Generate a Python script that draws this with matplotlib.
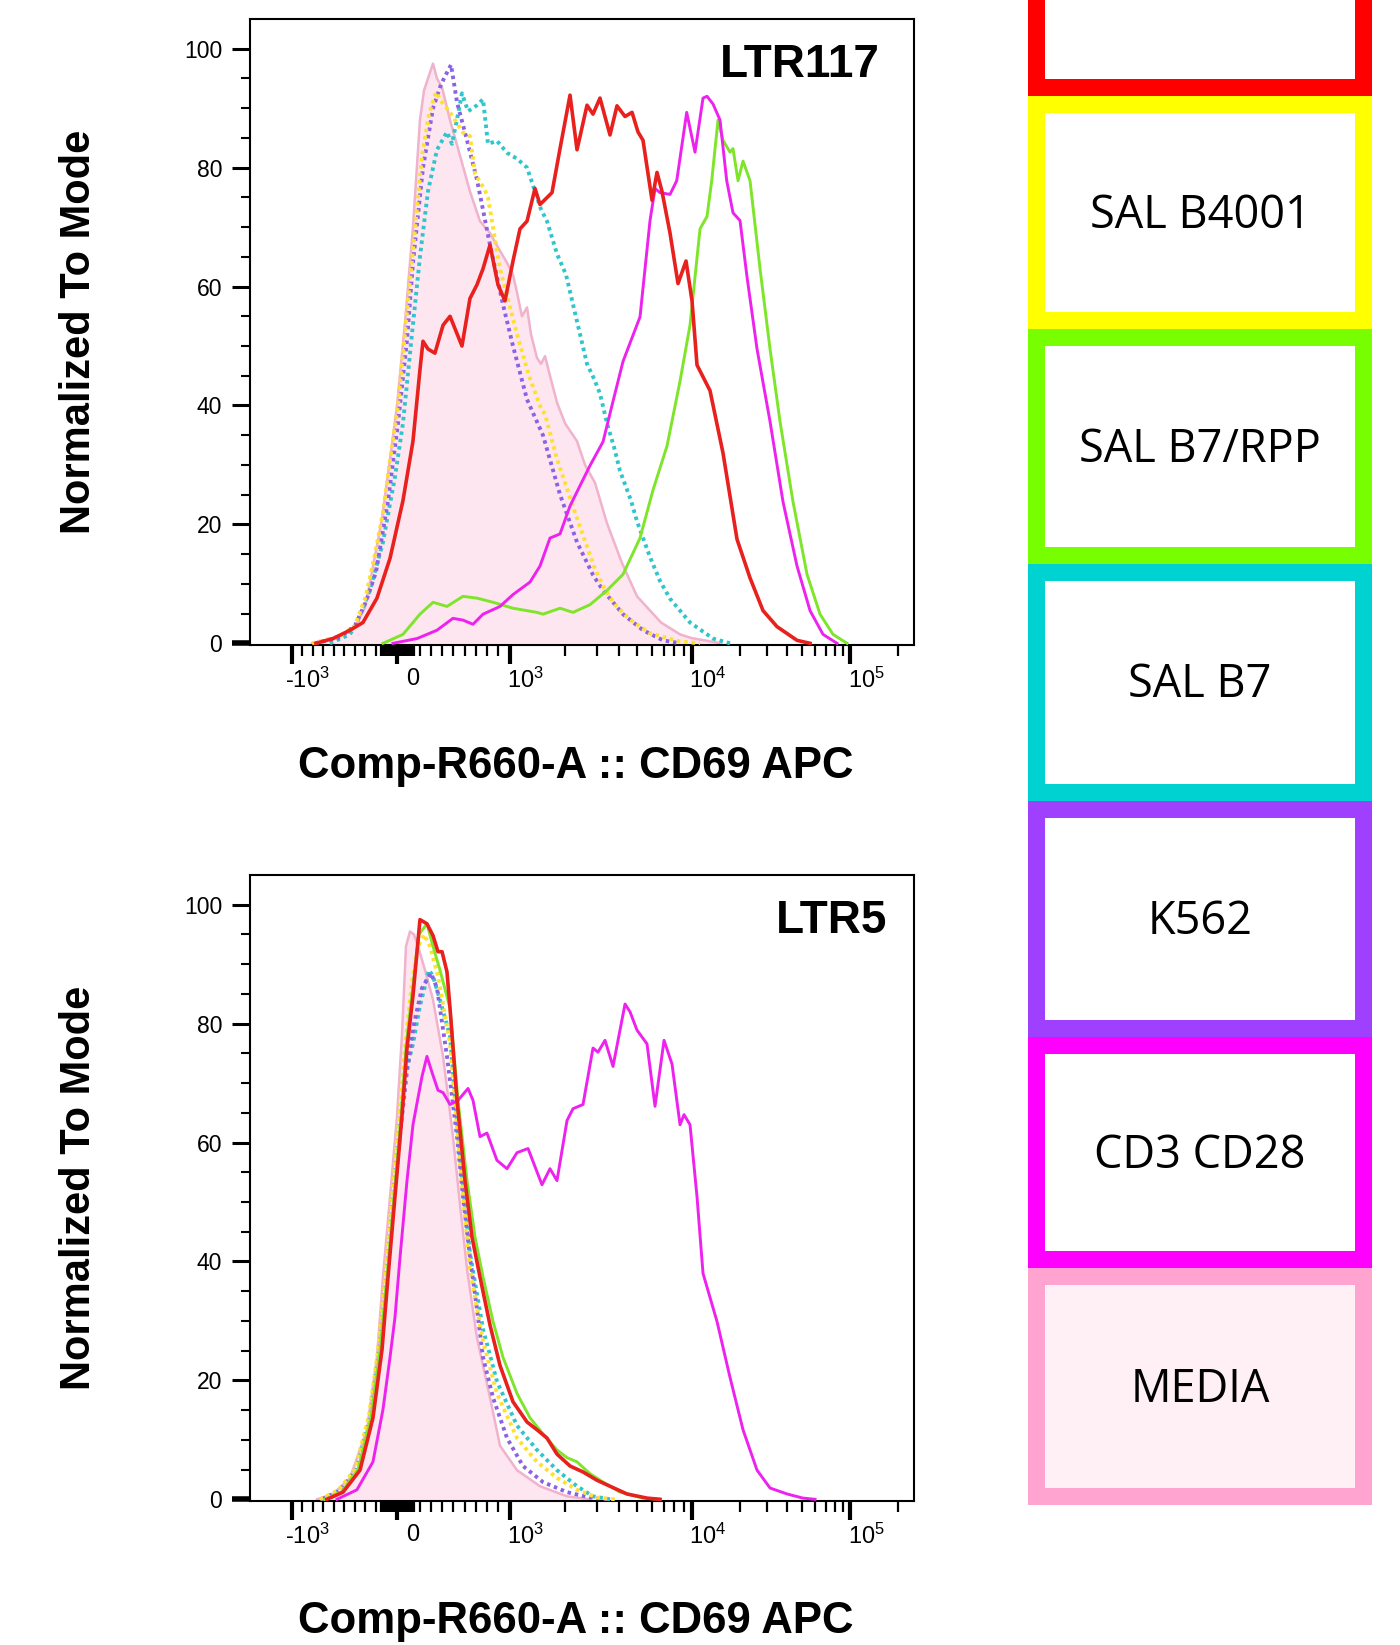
import matplotlib

matplotlib.use("Agg")
import matplotlib.pyplot as plt
import matplotlib.transforms as mtransforms
from matplotlib.patches import Rectangle
import numpy as np

plt.rcParams["font.family"] = ["Liberation Sans", "DejaVu Sans"]
plt.rcParams["mathtext.fontset"] = "custom"
plt.rcParams["mathtext.rm"] = "Liberation Sans"

# ---- data (x = fluorescence, y = % of mode) ----
top_media_x = [-806, -560, -398, -304, -237, -142, -66, 0, 71, 142, 204, 240, 284, 320, 355, 400,
               471, 560, 648, 737, 826, 915, 977, 1044, 1098, 1169, 1246, 1310, 1413, 1486, 1564, 1665,
               1819, 2013, 2342, 2591, 2939, 3419, 4132, 4995, 6761, 8596, 9874, 15259]
top_media_y = [0, 1, 2.8, 6, 12, 21, 31, 40, 54, 70, 88, 93, 95.5, 97.5, 95, 93.5,
               88, 82, 76, 71, 69, 66, 64, 62, 59, 55, 56.5, 52, 48, 47, 48.3, 45,
               40.5, 37, 34, 30, 27, 20.2, 13.5, 7.9, 3.5, 1.5, 0.9, 0]
top_yellow_x = [-806, -541, -398, -294, -209, -133, -57, 9, 80, 151, 222, 284, 346, 400, 471, 586,
                648, 693, 773, 808, 915, 1098, 1277, 1486, 1564, 1819, 2342, 2939, 3335, 3784, 4571, 5886,
                8596, 11236]
top_yellow_y = [0, 1.2, 3, 8, 15, 22, 32, 40, 54, 68, 82, 89, 92.7, 91, 89.3, 85.9,
                85.3, 79, 76.5, 75, 63, 52, 45, 39.5, 38.5, 31, 21, 12.5, 9, 6.5, 4, 1.7,
                0.3, 0]
top_purple_x = [-778, -541, -398, -294, -199, -85, 9, 89, 142, 231, 320, 391, 444, 480, 533, 622,
                710, 826, 941, 1044, 1246, 1524, 1890, 2342, 2866, 3252, 4185, 5387, 6934, 8596]
top_purple_y = [0, 1, 3, 7, 12, 24, 37, 51, 64, 80, 90, 94, 96, 97.3, 91, 84.6,
                78, 67, 57, 50, 41, 35, 25, 17, 11.5, 8.9, 4.9, 2.2, 0.5, 0]
top_cyan_x = [-636, -446, -380, -256, -133, -19, 53, 133, 204, 275, 355, 444, 488, 542, 577, 631,
              675, 710, 764, 808, 888, 977, 1098, 1246, 1361, 1486, 1603, 1819, 2038, 2227, 2432, 2657,
              2902, 3130, 3419, 3736, 4030, 4631, 4995, 5886, 6676, 7575, 9750, 13585, 17398]
top_cyan_y = [0, 1.5, 3.5, 9, 17, 28, 37, 52, 65, 76, 83, 86, 84, 89, 92.5, 89.5,
              90, 90.5, 91.5, 84, 84.5, 82.5, 81.5, 80, 76.5, 73, 71, 65.5, 62, 57, 52, 47,
              44.5, 42, 37, 33, 29, 24, 20.5, 14.5, 10.5, 7.5, 3.5, 0.8, 0]
top_red_x = [-769, -607, -446, -323, -190, -66, 53, 142, 204, 231, 275, 337, 409, 471, 577, 648,
             710, 764, 826, 897, 959, 1044, 1140, 1246, 1378, 1468, 1708, 1890, 2144, 2342, 2657, 2866,
             3130, 3551, 3879, 4293, 4690, 5058, 5387, 6037, 6428, 6847, 7575, 8381, 9271, 10000, 10756,
             12997, 15709, 19266, 23285, 28142, 34514, 46190, 55820]
top_red_y = [0, 0.8, 2.2, 3.5, 7.6, 14.3, 24, 34, 46, 50.8, 49.5, 48.8, 53.5, 55, 50, 58,
             60.3, 63, 67, 60.3, 57.6, 64.3, 69.7, 71, 76.5, 73.8, 75.8, 83.2, 92.2, 83, 90.5, 89,
             91.7, 85.5, 90.4, 88.6, 89.3, 86, 84.6, 74.5, 79.2, 76, 69, 60.5, 64.3, 57.6, 46.8,
             42.5, 32, 17.5, 11, 5.5, 2.8, 0.5, 0]
top_magenta_x = [-38, 178, 355, 497, 586, 675, 764, 915, 1044, 1294, 1468, 1665, 1890, 2144, 2432, 2760,
                 3252, 3689, 4185, 5187, 5886, 6269, 6676, 7575, 8245, 9352, 10447, 11738, 12443, 13585,
                 15039, 16579, 18171, 20125, 22294, 25792, 31170, 37660, 46190, 55820, 67460, 82750]
top_magenta_y = [0, 0.8, 2.2, 4.2, 3.9, 3.2, 4.9, 6.2, 8.2, 10.3, 13, 17.7, 18.4, 23.1, 26.5, 29.9,
                 33.9, 40.7, 47.4, 54.9, 71.1, 76.5, 75.8, 75.5, 77.8, 89.3, 82.6, 91.7, 92, 90.7,
                 88, 77.8, 72.4, 71.1, 61.6, 49.5, 37.3, 23.8, 13, 5.5, 1.5, 0]
top_green_x = [-133, 53, 204, 320, 444, 586, 710, 853, 1044, 1413, 1524, 1890, 2227, 2760, 3419, 4185,
               5187, 6114, 7295, 8596, 9750, 11236, 12443, 13325, 14608, 15709, 17398, 18171, 19548,
               21025, 23285, 26942, 31170, 36058, 43570, 53430, 64580, 78050, 95720]
top_green_y = [0, 1.5, 4.9, 6.9, 6.2, 7.9, 7.6, 6.9, 5.9, 5.2, 4.9, 5.9, 5.2, 6.5, 8.9, 11.6,
               17.7, 25.8, 33.2, 44.1, 53.5, 69.7, 71.8, 77.8, 88, 84.6, 82.6, 83.2, 77.8,
               81.1, 77.8, 63, 49.5, 37.3, 23.8, 11.6, 4.9, 1.5, 0]

bot_media_x = [-759, -607, -446, -285, -190, -133, -66, 0, 44, 80, 115, 151, 187, 249, 320, 409,
               497, 560, 622, 710, 826, 915, 1098, 1468, 2064, 2760]
bot_media_y = [0, 0.9, 3.6, 11.7, 23.9, 37.4, 50.9, 64.4, 78, 93, 95.5, 95, 93, 89, 84, 74.5,
               61, 49.5, 38.7, 27.2, 17.1, 9, 4.9, 2.2, 0.5, 0]
bot_yellow_x = [-731, -560, -398, -266, -180, -114, -47, 18, 71, 133, 187, 240, 293, 364, 471, 560,
                648, 764, 888, 1098, 1413, 1819, 2342, 3015, 3784]
bot_yellow_y = [0, 1.5, 5, 14, 25, 37, 51, 64, 76, 87, 93, 95, 93, 88, 76.6, 56.3,
                38.7, 26.6, 17.8, 10.3, 6.3, 3.6, 1.6, 0.3, 0]
bot_purple_x = [-712, -541, -380, -247, -161, -95, -28, 36, 89, 151, 222, 302, 355, 444, 533, 586,
                648, 710, 764, 853, 977, 1184, 1524, 2064, 2760, 3551]
bot_purple_y = [0, 1.4, 5, 14, 25, 37, 51, 63, 72, 80, 86, 88.5, 86, 74.5, 61, 50.9,
                40.7, 32, 23.9, 17.1, 10.3, 5.6, 2.9, 1.2, 0.3, 0]
bot_cyan_x = [-712, -541, -389, -256, -171, -104, -38, 27, 80, 142, 204, 284, 320, 382, 471, 560,
              648, 764, 888, 1098, 1413, 1819, 2342, 2866, 3551]
bot_cyan_y = [0, 1.5, 5, 14, 25, 37, 51, 64, 72, 76.6, 83, 89, 88, 84, 77.9, 57.6,
              41.4, 28.6, 19.8, 12.4, 8.3, 4.9, 2.2, 0.5, 0]
bot_red_x = [-664, -512, -351, -228, -142, -85, -19, 44, 89, 142, 204, 266, 320, 364, 400, 444,
             471, 533, 604, 666, 737, 826, 915, 1044, 1246, 1413, 1603, 1819, 2144, 2526, 3015,
             3551, 4402, 5665, 6676]
bot_red_y = [0, 1.2, 4.9, 13.7, 25.2, 37.4, 50.9, 64.4, 75.9, 84.7, 97.5, 96.8, 94.8, 92.1, 92.1, 88.7,
             82.6, 67.1, 53.6, 44.1, 37.4, 29.3, 22.5, 16.4, 13, 11.7, 10.3, 7.6, 5.6, 4.6, 3.2,
             2.2, 0.9, 0.2, 0]
bot_magenta_x = [-569, -380, -228, -133, -66, -19, 27, 89, 142, 222, 266, 311, 364, 409, 471, 542,
                 631, 675, 737, 799, 888, 977, 1098, 1262, 1505, 1665, 1819, 2064, 2227, 2526, 2866,
                 3052, 3335, 3689, 4293, 4571, 4995, 5665, 6269, 7024, 7770, 8596, 9040, 9750, 10756,
                 11738, 14396, 17398, 21025, 25792, 31170, 39930, 50400, 60040]
bot_magenta_y = [0, 1.6, 6.3, 15.1, 23.9, 30.6, 40.7, 53.6, 63, 71.1, 74.5, 71.8, 68.8, 68.4, 66.4, 67.1,
                 69.1, 67.1, 61, 61.6, 57, 55.6, 58.3, 59, 52.9, 55.6, 53.6, 63.7, 65.7, 66.4, 75.9,
                 75.2, 77.2, 72.8, 83.3, 82, 78.9, 76.6, 66.1, 77.2, 73.2, 63, 64.7, 63, 50.9,
                 38, 29.9, 20.5, 11.7, 4.9, 1.9, 0.9, 0.2, 0]
bot_green_x = [-683, -522, -370, -247, -161, -95, -28, 36, 80, 133, 195, 266, 320, 382, 471, 542,
               622, 693, 764, 853, 941, 1098, 1294, 1524, 1819, 2064, 2342, 2760, 3252, 4030, 5387, 6676]
bot_green_y = [0, 1.3, 5, 13.7, 25, 37.4, 51, 64.5, 76, 85, 95, 96.8, 93, 89, 82.6, 67.1,
               53.6, 44.1, 37.4, 29.9, 23.9, 17.8, 13.7, 11, 8.3, 7, 6.3, 4.3, 2.9, 1.2, 0.2, 0]

panel_titles = ["LTR117", "LTR5"]
x_label = "Comp-R660-A :: CD69 APC"
y_label = "Normalized To Mode"
x_major = [-1000, 0, 1000, 10000, 100000]
x_major_labels = ["-$\\mathrm{10^{3}}$", "0", "$\\mathrm{10^{3}}$", "$\\mathrm{10^{4}}$", "$\\mathrm{10^{5}}$"]
y_major = [0, 20, 40, 60, 80, 100]

legend_labels = ["", "SAL B4001", "SAL B7/RPP", "SAL B7", "K562", "CD3 CD28", "MEDIA"]
legend_edge = ["#ff0000", "#ffff00", "#77ff00", "#00d2d2", "#a040ff", "#ff00ff", "#ffa4d0"]
legend_face = ["white", "white", "white", "white", "white", "white", "#fff0f6"]

# ---- FlowJo-like biexponential display axis ----
SEG_NEG, SEG_LIN, SEG_D3, SEG_D4 = 1.054, 1.126, 1.824, 1.58


def biex_fwd(x):
    x = np.asarray(x, dtype=float)
    a = np.abs(x)
    g = np.where(a <= 1000, x / 1000, np.sign(x) * (1 + np.log10(np.maximum(a, 1000) / 1000)))
    return np.where(g < 0, SEG_NEG * g,
                    np.where(g <= 1, SEG_LIN * g,
                             np.where(g <= 2, SEG_LIN + SEG_D3 * (g - 1),
                                      SEG_LIN + SEG_D3 + SEG_D4 * (g - 2))))


def biex_inv(s):
    s = np.asarray(s, dtype=float)
    g = np.where(s < 0, s / SEG_NEG,
                 np.where(s <= SEG_LIN, s / SEG_LIN,
                          np.where(s <= SEG_LIN + SEG_D3, 1 + (s - SEG_LIN) / SEG_D3,
                                   2 + (s - SEG_LIN - SEG_D3) / SEG_D4)))
    a = np.abs(g)
    return np.where(a <= 1, g * 1000, np.sign(g) * 1000 * 10 ** (np.clip(a, 1, 12) - 1))


W, H = 1400, 1645
fig = plt.figure(figsize=(W / 100, H / 100), dpi=100)


def fx(px):
    return px / W


def fy(py):
    return 1 - py / H


dot = dict(lw=2.8, dashes=(0.9, 1.0), dash_capstyle="butt")


def draw_panel(ax, d, title, title_x):
    ax.set_xscale("function", functions=(biex_fwd, biex_inv))
    ax.fill_between(d["media"][0], d["media"][1], 0, color="#fde6f0", lw=0, zorder=1)
    ax.plot(*d["media"], color="#f0b2cc", lw=1.8, zorder=2)
    ax.plot(*d["cyan"], color="#2ec6cc", zorder=3, **dot)
    ax.plot(*d["purple"], color="#8b62e6", zorder=3, **dot)
    ax.plot(*d["yellow"], color="#ffe030", zorder=3, **dot)
    ax.plot(*d["green"], color="#7ee52a", lw=2.1, zorder=4)
    ax.plot(*d["magenta"], color="#ee22ee", lw=2.1, zorder=4)
    ax.plot(*d["red"], color="#e8201e", lw=2.6, zorder=5)

    ax.set_xlim(-2480, 254000)
    ax.set_ylim(-0.2, 105)
    ax.set_xticks(x_major)
    ax.set_xticklabels(x_major_labels)
    minor = (list(range(-900, 0, 100)) + list(range(100, 1000, 100)) + list(range(2000, 10000, 1000))
             + list(range(20000, 100000, 10000)) + [200000] + list(range(-150, 160, 15)))
    ax.set_xticks(minor, minor=True)
    ax.set_yticks(y_major)
    ax.set_yticklabels([str(v) for v in y_major])
    ax.set_yticks(np.arange(0, 105, 5), minor=True)

    ax.tick_params(axis="x", which="major", direction="out", length=14, width=3, pad=3, labelsize=17)
    ax.tick_params(axis="x", which="minor", direction="out", length=8, width=1.6)
    ax.tick_params(axis="y", which="major", direction="out", length=13, width=2.2, pad=7, labelsize=16.5)
    ax.tick_params(axis="y", which="minor", direction="out", length=6.5, width=1.5)
    ax.yaxis.get_major_ticks()[0].tick1line.set_markeredgewidth(4)
    for sp in ax.spines.values():
        sp.set_linewidth(1.5)
    shift = mtransforms.ScaledTranslation(0.16, 0, fig.dpi_scale_trans)
    for lab in ax.get_xticklabels():
        lab.set_transform(lab.get_transform() + shift)

    ax.text(title_x, 0.926, title, transform=ax.transAxes, ha="right", va="center",
            fontsize=33, fontweight="bold")


top = dict(media=(top_media_x, top_media_y), yellow=(top_yellow_x, top_yellow_y),
           purple=(top_purple_x, top_purple_y), cyan=(top_cyan_x, top_cyan_y),
           red=(top_red_x, top_red_y), magenta=(top_magenta_x, top_magenta_y),
           green=(top_green_x, top_green_y))
bot = dict(media=(bot_media_x, bot_media_y), yellow=(bot_yellow_x, bot_yellow_y),
           purple=(bot_purple_x, bot_purple_y), cyan=(bot_cyan_x, bot_cyan_y),
           red=(bot_red_x, bot_red_y), magenta=(bot_magenta_x, bot_magenta_y),
           green=(bot_green_x, bot_green_y))

ax1 = fig.add_axes([fx(250), fy(644.5), fx(914) - fx(250), 625.5 / H])
ax2 = fig.add_axes([fx(250), fy(1500.5), fx(914) - fx(250), 625.5 / H])
draw_panel(ax1, top, panel_titles[0], 0.949)
draw_panel(ax2, bot, panel_titles[1], 0.959)

for yc, yl in [(767, 332), (1622, 1188)]:
    fig.text(fx(576), fy(yc), x_label, ha="center", va="center", fontsize=31.5, fontweight="bold")
    fig.text(fx(79), fy(yl), y_label, ha="center", va="center", rotation=90, fontsize=30,
             fontweight="bold")

# ---- legend boxes on the right ----
edges = [-139, 96, 329, 564, 801, 1037, 1268, 1505]
bx0, bx1, bw = 1028, 1372, 17
for i, lab in enumerate(legend_labels):
    t, b = edges[i], edges[i + 1]
    fig.add_artist(Rectangle((fx(bx0), fy(b)), (bx1 - bx0) / W, (b - t) / H,
                             transform=fig.transFigure, facecolor=legend_edge[i], lw=0))
    fig.add_artist(Rectangle((fx(bx0 + bw), fy(b - bw)), (bx1 - bx0 - 2 * bw) / W, (b - t - 2 * bw) / H,
                             transform=fig.transFigure, facecolor=legend_face[i], lw=0))
    if lab:
        fig.text(fx((bx0 + bx1) / 2), fy((t + b) / 2 + 3), lab, ha="center", va="center",
                 fontsize=32.5, family=["Open Sans", "DejaVu Sans"])

fig.savefig("out.png", dpi=100)
plt.close(fig)
